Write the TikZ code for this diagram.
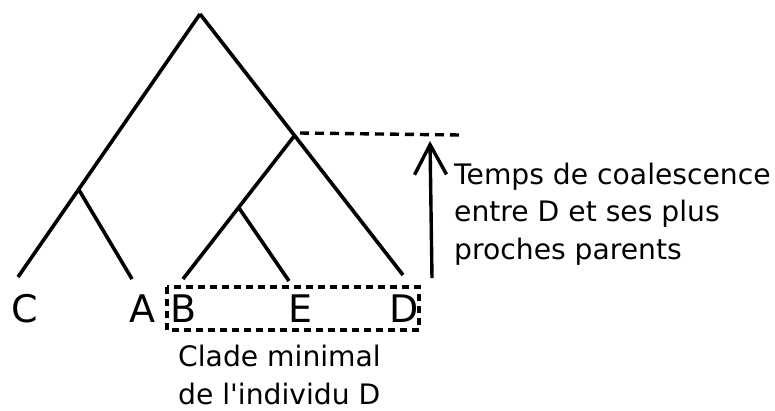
\documentclass[tikz,border=0pt]{standalone}
\usepackage{fontspec}
\setmainfont{DejaVu Sans}[Ligatures=TeXOff]
\usetikzlibrary{arrows.meta}

\begin{document}
\begin{tikzpicture}[x=1pt,y=-1pt,
    branch/.style={line width=3.6pt},
    leaf/.style={font=\fontsize{38}{40}\selectfont,anchor=base,inner sep=0pt},
    note/.style={font=\fontsize{28.2}{37.5}\selectfont,align=left,anchor=west,inner sep=0pt}]
        \useasboundingbox (0,0) rectangle (775,410);
        % tree vertices
        \coordinate (root) at (200, 14);
        \coordinate (ca) at (79, 190);
        \coordinate (bed) at (295, 135);
        \coordinate (be) at (239, 208);
        \coordinate (c) at (18, 277);
        \coordinate (a) at (132, 279);
        \coordinate (b) at (183, 279);
        \coordinate (e) at (289, 281);
        \coordinate (d) at (403, 275);

        % leaf labels
        \node[leaf] (labc) at (25, 322) {C};
        \node[leaf] (laba) at (142, 322) {A};
        \node[leaf] (labb) at (184, 322) {B};
        \node[leaf] (labe) at (300, 322) {E};
        \node[leaf] (labd) at (404, 322) {D};

        % Draw the edges
        \draw[branch] (root) -- (c);
        \draw[branch] (ca) -- (a);
        \draw[branch] (root) -- (d);
        \draw[branch] (bed) -- (b);
        \draw[branch] (be) -- (e);

        % minimal clade box
        \draw[line width=3.4pt,dash pattern=on 7pt off 5pt] (167, 287) rectangle (419, 330);
        \node[note,anchor=north west] (clade) at (178, 345) {Clade minimal\\de l'individu D};

        % coalescence time
        \coordinate (lvl) at (300, 133);
        \coordinate (lvlend) at (460, 135);
        \draw[line width=3.4pt,dash pattern=on 9pt off 6pt] (lvl) -- (lvlend);
        \coordinate (tbot) at (432, 278);
        \coordinate (ttop) at (430, 141);
        \draw[line width=3.4pt,-{Straight Barb[length=30pt,width=32pt,line width=3.4pt]}] (tbot) -- (ttop);
        \node[note] (temps) at (454, 214) {Temps de coalescence\\entre D et ses plus\\proches parents};
    \end{tikzpicture}
\end{document}
